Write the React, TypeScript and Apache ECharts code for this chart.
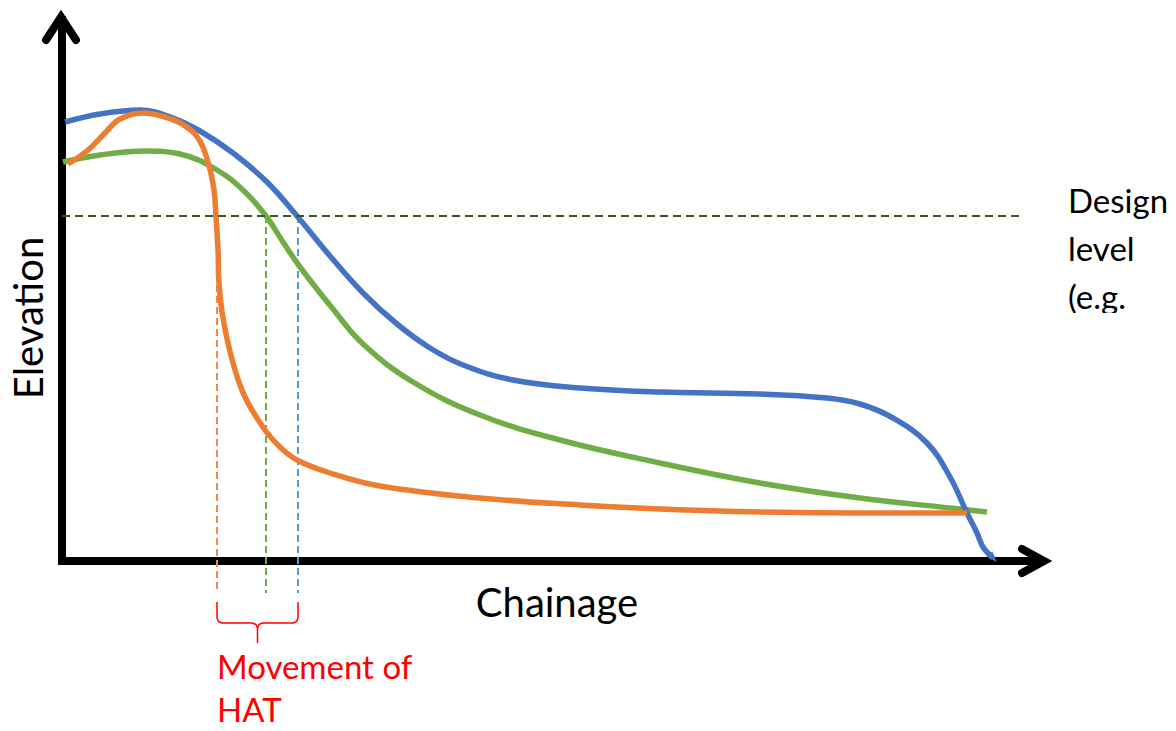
import React, { useEffect, useRef } from "react";
import * as echarts from "echarts";

// Chainage / elevation (arbitrary schematic units)
const blueChainage = [3, 38, 78, 111, 138, 171, 205, 235, 268, 301, 335, 368, 401, 451, 518, 598, 698, 765, 798, 831, 865, 888, 905, 915, 921, 931];
const blueElevation = [439, 447, 451, 443, 430, 408, 379, 345, 305, 268, 237, 213, 196, 181, 173, 169, 167, 163, 157, 143, 118, 84, 48, 28, 14, 3];

const orangeChainage = [6, 26, 43, 58, 81, 103, 120, 136, 146, 152, 154, 156, 157, 161, 171, 183, 203, 218, 235, 268, 318, 418, 518, 598, 698, 798, 905];
const orangeElevation = [397, 411, 428, 442, 448, 444, 437, 423, 399, 371, 344, 311, 278, 243, 198, 164, 131, 114, 101, 88, 75, 63, 56, 52, 49, 48, 48];

const greenChainage = [1, 38, 83, 118, 155, 183, 204, 221, 238, 271, 301, 351, 418, 498, 598, 698, 798, 898, 925];
const greenElevation = [399, 406, 410, 407, 391, 369, 345, 319, 294, 252, 217, 179, 146, 121, 98, 78, 63, 52, 49];

const designLevel = 345;
const designLevelExtent = [0, 960];

// where each profile crosses the design level (HAT position), and where its guide line starts
const hatNames = ["orange", "green", "blue"];
const hatChainage = [155, 204, 236];
const hatGuideTop = [276, 345, 345];
const guideBottom = -32;

const braceLevels = [-41, -62, -82];

const AXIS_X_MAX = 978;
const AXIS_Y_MAX = 541;

const FONT = "Lato, 'Liberation Sans', sans-serif";

const COLORS: Record<string, string> = {
  blue: "#4472C4",
  orange: "#ED7D31",
  green: "#70AD47",
};
const GUIDE_COLORS: Record<string, string> = {
  blue: "#5B9BD5",
  orange: "#F08A4B",
  green: "#70AD47",
};

export default function App() {
  const ref = useRef<HTMLDivElement>(null);

  useEffect(() => {
    if (!ref.current) return;
    const chart = echarts.init(ref.current, null, { renderer: "svg" });
    const zip = (xs: number[], ys: number[]) => xs.map((x, i) => [x, ys[i]]);

    const blueData: any[] = zip(blueChainage, blueElevation);
    const last = blueData.length - 1;
    blueData[last] = {
      value: blueData[last],
      symbol: "triangle",
      symbolSize: [8, 11],
      symbolRotate: -138,
      itemStyle: { color: COLORS.blue },
    };

    const curve = (name: string, data: any[]) => ({
      type: "line",
      name,
      data,
      smooth: 0.4,
      symbol: "none",
      showSymbol: true,
      clip: false,
      lineStyle: { color: COLORS[name], width: 5.5 },
      itemStyle: { color: COLORS[name] },
      z: 3,
    });

    const guides = hatNames.map((n, i) => ({
      type: "line",
      name: n + "-guide",
      data: [
        [hatChainage[i], hatGuideTop[i]],
        [hatChainage[i], guideBottom],
      ],
      symbol: "none",
      clip: false,
      lineStyle: { color: GUIDE_COLORS[n], width: 2, type: [7, 4] },
      z: 2,
    }));

    const bl = Math.min(...hatChainage);
    const br = Math.max(...hatChainage);
    const bm = (bl + br) / 2;
    const [bTop, bBar, bTip] = braceLevels;
    const braceLeft = [
      [bl, bTop],
      [bl, bBar + 5],
      [bl + 1.5, bBar + 1.5],
      [bl + 5, bBar],
      [bm - 5, bBar],
      [bm - 1.5, bBar - 1.5],
      [bm, bBar - 5],
      [bm, bTip],
    ];
    const braceRight = [
      [bm, bBar - 5],
      [bm + 1.5, bBar - 1.5],
      [bm + 5, bBar],
      [br - 5, bBar],
      [br - 1.5, bBar + 1.5],
      [br, bBar + 5],
      [br, bTop],
    ];
    const brace = (data: number[][]) => ({
      type: "line",
      data,
      symbol: "none",
      clip: false,
      lineStyle: { color: "#FF0000", width: 1.5 },
      z: 2,
    });

    const text = (t: string, x: number, y: number, size: number, color: string, align = "left", rotation = 0) => ({
      type: "text",
      x,
      y,
      rotation,
      z: 10,
      style: {
        text: t,
        font: `${size}px ${FONT}`,
        lineHeight: Math.round(size * 0.9),
        fill: color,
        align,
        textAlign: align,
        verticalAlign: "middle",
        textVerticalAlign: "middle",
      },
    });

    const option: any = {
      animation: false,
      grid: { left: 62, top: 20, width: AXIS_X_MAX, height: AXIS_Y_MAX },
      xAxis: {
        type: "value",
        min: 0,
        max: AXIS_X_MAX,
        axisLine: { show: true, onZero: false, lineStyle: { color: "#000", width: 8, cap: "square" } },
        axisTick: { show: false },
        axisLabel: { show: false },
        splitLine: { show: false },
      },
      yAxis: {
        type: "value",
        min: 0,
        max: AXIS_Y_MAX,
        axisLine: { show: true, onZero: false, lineStyle: { color: "#000", width: 8, cap: "square" } },
        axisTick: { show: false },
        axisLabel: { show: false },
        splitLine: { show: false },
      },
      series: [
        ...guides,
        curve("green", zip(greenChainage, greenElevation)),
        curve("blue", blueData),
        curve("orange", zip(orangeChainage, orangeElevation)),
        {
          type: "line",
          name: "design",
          data: designLevelExtent.map((x) => [x, designLevel]),
          symbol: "none",
          clip: false,
          lineStyle: { color: "#385723", width: 2, type: [8, 5] },
          z: 4,
        },
        brace(braceLeft),
        brace(braceRight),
      ],
      graphic: [
        {
          type: "polyline",
          z: 5,
          shape: { points: [[46, 40], [61, 17], [76, 40]] },
          style: { stroke: "#000", lineWidth: 8, fill: null, lineCap: "round", lineJoin: "miter" },
        },
        {
          type: "polyline",
          z: 5,
          shape: { points: [[1022, 549], [1044, 561], [1022, 573]] },
          style: { stroke: "#000", lineWidth: 8, fill: null, lineCap: "round", lineJoin: "miter" },
        },
        text("Chainage", 557, 602, 40, "#000", "center"),
        text("Elevation", 28, 318, 40, "#000", "center", Math.PI / 2),
        text("Movement of", 217, 666, 33, "#FF0000"),
        text("HAT", 217, 709, 33, "#FF0000"),
        text("Design", 1068, 200, 33, "#000"),
        text("level", 1068, 248, 33, "#000"),
        text("(e.g.", 1068, 296, 33, "#000"),
        {
          type: "rect",
          z: 11,
          shape: { x: 1060, y: 313, width: 116, height: 30 },
          style: { fill: "#fff" },
        },
      ],
    };
    chart.setOption(option);
    return () => chart.dispose();
  }, []);

  return (
    <div
      ref={ref}
      style={{ position: "fixed", left: 0, top: 0, width: 1176, height: 731, background: "#fff" }}
    />
  );
}
